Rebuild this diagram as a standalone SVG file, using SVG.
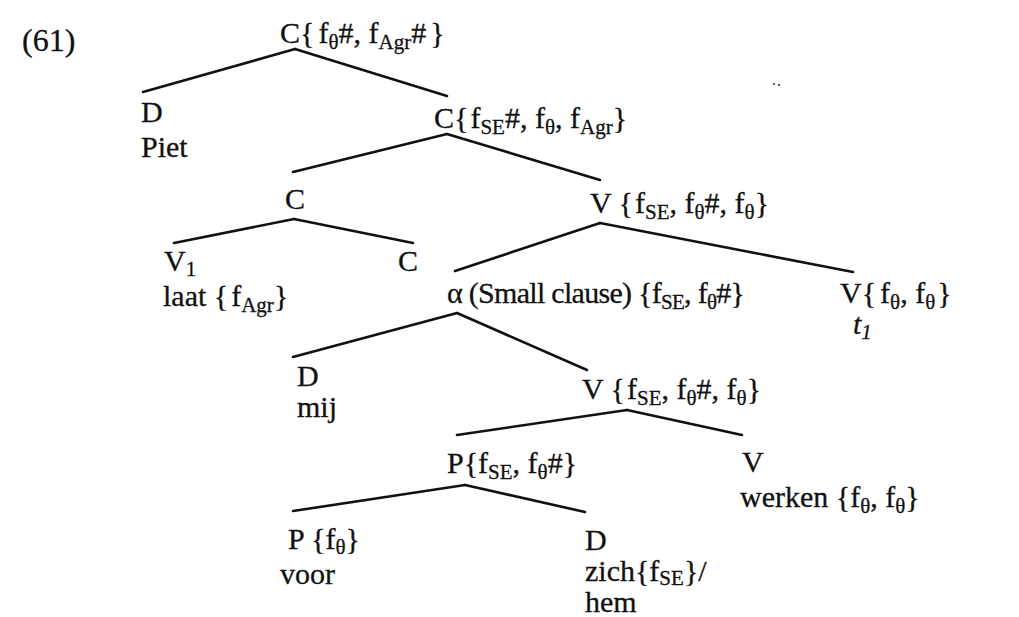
<svg xmlns="http://www.w3.org/2000/svg" width="1019" height="617" viewBox="0 0 1019 617">
<style>
text{font-family:"Liberation Serif","Times New Roman",serif;font-size:30px;fill:#111;stroke:#111;stroke-width:0.3}
.s{font-size:21px}
.it{font-style:italic}
.e line{stroke:#111;stroke-width:2.6;stroke-linecap:round}
</style>
<rect width="1019" height="617" fill="#fff"/>
<text id="label61" x="22" y="51" style="font-size:32px">(61)</text>
<g class="e" id="connectors">
<line x1="295" y1="49" x2="143" y2="92"/>
<line x1="295" y1="49" x2="447" y2="96"/>
<line x1="447" y1="134" x2="293" y2="172"/>
<line x1="447" y1="134" x2="600" y2="180"/>
<line x1="294" y1="219" x2="174" y2="243"/>
<line x1="294" y1="219" x2="413" y2="243"/>
<line x1="600" y1="223" x2="455" y2="271"/>
<line x1="600" y1="223" x2="853" y2="272"/>
<line x1="457" y1="313" x2="293" y2="357"/>
<line x1="457" y1="313" x2="587" y2="370"/>
<line x1="627" y1="410" x2="457" y2="435"/>
<line x1="627" y1="410" x2="742" y2="435"/>
<line x1="465" y1="485" x2="293" y2="511"/>
<line x1="465" y1="485" x2="585" y2="512"/>
</g>
<g id="n-root"><text x="280" y="43">C{<tspan dx="4">f</tspan><tspan class="s" dy="6">θ</tspan><tspan dy="-6">#, f</tspan><tspan class="s" dy="6">Agr</tspan><tspan dy="-6">#</tspan><tspan dx="4">}</tspan></text></g>
<g id="n-piet"><text x="141" y="122">D</text><text x="141" y="157">Piet</text></g>
<g id="n-c2"><text x="434" y="128">C{<tspan dx="2">f</tspan><tspan class="s" dy="6">SE</tspan><tspan dy="-6">#, f</tspan><tspan class="s" dy="6">θ</tspan><tspan dy="-6">, f</tspan><tspan class="s" dy="6">Agr</tspan><tspan dy="-6">}</tspan></text></g>
<g id="n-c3"><text x="285" y="209">C</text></g>
<g id="n-v1"><text x="590" y="213">V {<tspan dx="2">f</tspan><tspan class="s" dy="6">SE</tspan><tspan dy="-6">, f</tspan><tspan class="s" dy="6">θ</tspan><tspan dy="-6">#, f</tspan><tspan class="s" dy="6">θ</tspan><tspan dy="-6">}</tspan></text></g>
<g id="n-laat"><text x="164" y="271">V<tspan class="s" dy="5">1</tspan></text><text x="163" y="306">laat {<tspan dx="3">f</tspan><tspan class="s" dy="6">Agr</tspan><tspan dy="-6">}</tspan></text></g>
<g id="n-c4"><text x="398" y="271">C</text></g>
<g id="n-alpha"><text x="447" y="303" textLength="298" lengthAdjust="spacing">α (Small clause) {f<tspan class="s" dy="6">SE</tspan><tspan dy="-6">, f</tspan><tspan class="s" dy="6">θ</tspan><tspan dy="-6">#}</tspan></text></g>
<g id="n-trace"><text x="840" y="303">V{<tspan dx="4">f</tspan><tspan class="s" dy="6">θ</tspan><tspan dy="-6">, f</tspan><tspan class="s" dy="6">θ</tspan><tspan dy="-6" dx="2">}</tspan></text><text class="it" x="853" y="334">t<tspan class="s" dy="5">1</tspan></text></g>
<g id="n-mij"><text x="297" y="386">D</text><text x="297" y="417">mij</text></g>
<g id="n-v2"><text x="582" y="399">V {<tspan dx="2">f</tspan><tspan class="s" dy="6">SE</tspan><tspan dy="-6">, f</tspan><tspan class="s" dy="6">θ</tspan><tspan dy="-6">#, f</tspan><tspan class="s" dy="6">θ</tspan><tspan dy="-6">}</tspan></text></g>
<g id="n-p1"><text x="447" y="473">P{f<tspan class="s" dy="6">SE</tspan><tspan dy="-6">, f</tspan><tspan class="s" dy="6">θ</tspan><tspan dy="-6">#}</tspan></text></g>
<g id="n-werken"><text x="742" y="472">V</text><text x="740" y="507">werken {f<tspan class="s" dy="6">θ</tspan><tspan dy="-6">, f</tspan><tspan class="s" dy="6">θ</tspan><tspan dy="-6">}</tspan></text></g>
<g id="n-voor"><text x="288" y="549">P {f<tspan class="s" dy="5">θ</tspan><tspan dy="-5">}</tspan></text><text x="280" y="584">voor</text></g>
<g id="n-zich"><text x="585" y="550">D</text><text x="585" y="581">zich{f<tspan class="s" dy="4">SE</tspan><tspan dy="-4">}/</tspan></text><text x="585" y="612">hem</text></g>
<g id="speck" fill="#333"><circle cx="774" cy="84" r="1"/><circle cx="779" cy="85" r="1.1"/></g>
</svg>
